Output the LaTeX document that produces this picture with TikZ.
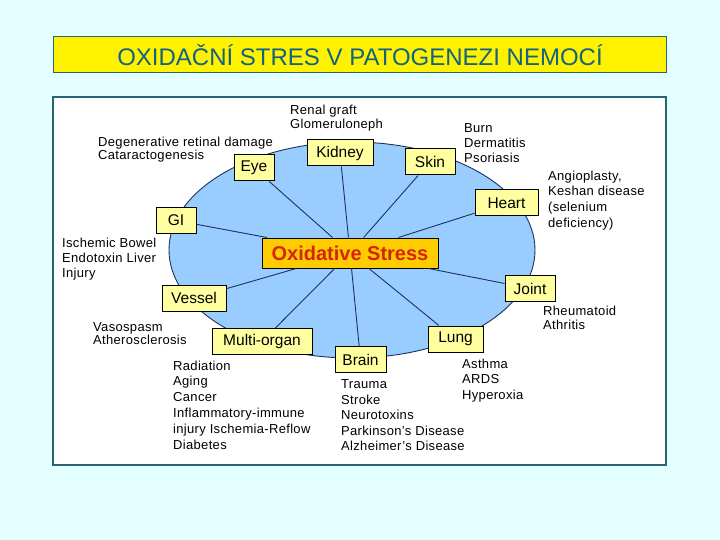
\documentclass[tikz,border=0pt]{standalone}
\usepackage{fontspec}
\setmainfont{Liberation Sans}
\newfontfamily\causefont[LetterSpace=2.5]{Liberation Sans}
\definecolor{bgcyan}{RGB}{228,255,255}
\definecolor{titleblue}{RGB}{18,98,128}
\definecolor{frameteal}{RGB}{40,100,115}
\definecolor{ovalblue}{RGB}{153,204,255}
\definecolor{ovalline}{RGB}{30,50,90}
\definecolor{boxyellow}{RGB}{255,255,160}
\definecolor{oxorange}{RGB}{255,204,0}
\definecolor{oxred}{RGB}{215,35,10}
\begin{document}
\begin{tikzpicture} [x = 1pt, y = -1pt,
	organ/.style = {draw, line width = 1pt, fill = boxyellow, inner sep = 0pt, minimum height = 26pt, font = \fontsize{15.5}{17}\selectfont},
	cause/.style = {anchor = north west, inner sep = 0pt, align = left, font = \causefont\fontsize{13}{15}\selectfont}]
	\useasboundingbox (0,0) rectangle (720,540);
	\fill [bgcyan] (0,0) rectangle (720,540);
	\draw [fill = yellow, draw = frameteal, line width = 1pt] (53,37) rectangle (666,73); %title
	\node (title) at (360,55.5) {\fontsize{24}{26}\selectfont\color{titleblue}OXIDAČNÍ STRES V PATOGENEZI NEMOCÍ};
	\draw [fill = white, draw = frameteal, line width = 1.2pt] (53,97) rectangle (666,465); %panel
	\draw [fill = ovalblue, draw = ovalline, line width = 0.9pt] (352,250) ellipse (183 and 108);
	%\draw (352,250) circle (2);
	\node [draw, line width = 1pt, fill = oxorange, minimum width = 176pt, minimum height = 30pt, inner sep = 0pt,
		font = \fontsize{20}{22}\selectfont\bfseries, text = oxred] (ox) at (350,253) {Oxidative Stress};
	\node [organ, minimum width = 40pt] (eye) at (254,168) {Eye};
	\node [organ, minimum width = 66pt] (kidney) at (340,153) {Kidney};
	\node [organ, minimum width = 50pt] (skin) at (430,162) {Skin};
	\node [organ, minimum width = 63pt] (heart) at (506.5,203) {Heart};
	\node [organ, minimum width = 40pt] (gi) at (176,220.5) {GI};
	\node [organ, minimum width = 50pt] (joint) at (530,288.5) {Joint};
	\node [organ, minimum width = 64pt] (vessel) at (194,298) {Vessel};
	\node [organ, minimum width = 100pt] (multi) at (262,341.5) {Multi-organ};
	\node [organ, minimum width = 51pt] (brain) at (360.5,359.5) {Brain};
	\node [organ, minimum width = 55pt] (lung) at (455.5,339) {Lung};
	\foreach \o in {eye, kidney, skin, heart, gi, joint, vessel, multi, brain, lung}
		\draw [ovalline, line width = 0.9pt] (ox) -- (\o);
	\node [cause, font = \causefont\fontsize{13}{14}\selectfont] (renal) at (290,105) {Renal graft\\Glomeruloneph};
	\node [cause, font = \causefont\fontsize{13}{13.3}\selectfont] (retina) at (98,136.5) {Degenerative retinal damage\\Cataractogenesis};
	\node [cause] (burn) at (464,123.5) {Burn\\Dermatitis\\Psoriasis};
	\node [cause, font = \causefont\fontsize{13}{15.7}\selectfont] (angio) at (548,170.5) {Angioplasty,\\Keshan disease\\(selenium\\deficiency)};
	\node [cause] (bowel) at (62,237.5) {Ischemic Bowel\\Endotoxin Liver\\Injury};
	\node [cause, font = \causefont\fontsize{13}{13.3}\selectfont] (vaso) at (93,322.5) {Vasospasm\\Atherosclerosis};
	\node [cause, font = \causefont\fontsize{13}{14}\selectfont] (rheuma) at (543,305.5) {Rheumatoid\\Athritis};
	\node [cause, font = \causefont\fontsize{13}{15.8}\selectfont] (radiation) at (173,360.5) {Radiation\\Aging\\Cancer\\Inflammatory-immune\\injury Ischemia-Reflow\\Diabetes};
	\node [cause, font = \causefont\fontsize{13}{15.5}\selectfont] (trauma) at (341,379.5) {Trauma\\Stroke\\Neurotoxins\\Parkinson’s Disease\\Alzheimer’s Disease};
	\node [cause, font = \causefont\fontsize{13}{15.5}\selectfont] (asthma) at (462,358.5) {Asthma\\ARDS\\Hyperoxia};
\end{tikzpicture}
\end{document}
